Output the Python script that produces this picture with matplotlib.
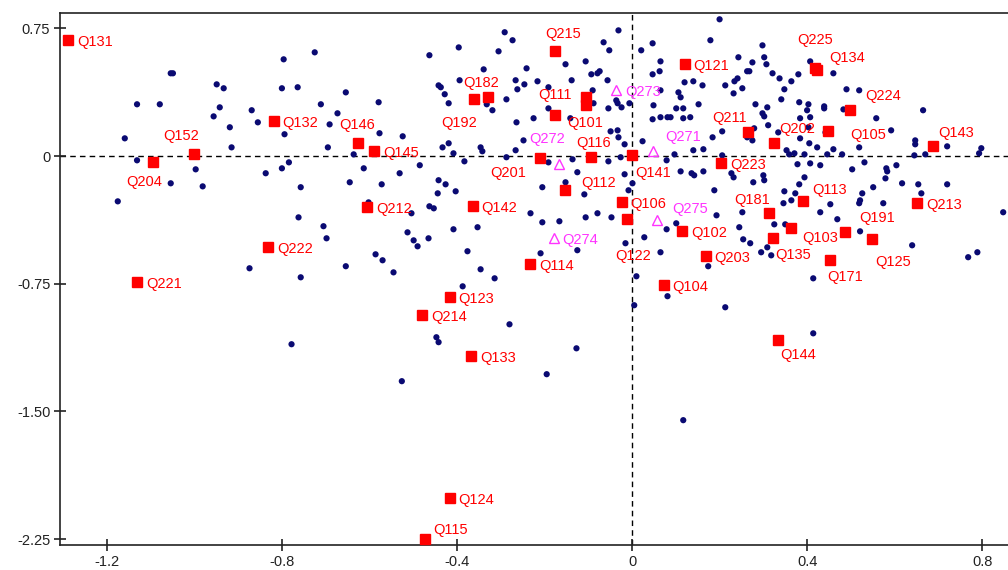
import numpy as np
import matplotlib
matplotlib.use("Agg")
import matplotlib.pyplot as plt

plt.rcParams['font.family'] = ['Liberation Sans', 'DejaVu Sans']

# background items (blue dots)
dot_x = [-0.725, -0.796, -1.054, -1.049, -0.949, -0.933, -0.800, -0.764, -1.131, -1.079,
         -0.942, -0.711, -0.869, -0.956, -0.673, -0.855, -0.691, -0.919, -0.794, -1.159,
         -0.915, -0.695, -1.131, -0.997, -0.784, -0.800, -0.837, -1.054, -0.981, -0.757,
         -1.175, -0.762, -0.705, -0.698, -0.874, -0.757, -0.778,
         -0.291, -0.273, -0.031, -0.463, -0.396, -0.305, -0.065, -0.052, -0.106, -0.152,
         -0.241, -0.339, -0.074, -0.079, -0.093, 0.021, 0.047, 0.065, 0.063, 0.047,
         -0.394, -0.266, -0.246, -0.216, -0.138, -0.056, -0.442, -0.437, -0.428, -0.262,
         -0.191, -0.287, -0.332, -0.319, -0.419, -0.654, -0.579, -0.090, -0.088, -0.036,
         -0.033, -0.054, -0.024, -0.006, 0.049, 0.047, 0.081, -0.225, -0.264, -0.141,
         -0.191, -0.033, -0.049, -0.031, -0.017, 0.024, -0.248, -0.266, -0.346, -0.342,
         -0.419, -0.433, -0.408, -0.383, -0.287, -0.577, -0.524, -0.636, -0.485, -0.613,
         -0.531, -0.645, -0.572, -0.191, -0.136, -0.125, -0.152, -0.205, -0.109, -0.054,
         -0.026, -0.017, 0.001, -0.008, -0.442, -0.426, -0.444, -0.403, -0.463, -0.453,
         -0.602, -0.504, -0.232, -0.166, -0.205, -0.106, -0.079, -0.047, -0.513, -0.465,
         -0.499, -0.490, -0.408, -0.353, -0.586, -0.570, -0.654, -0.545, -0.376, -0.346,
         -0.314, -0.387, -0.209, -0.125, 0.028, -0.015, 0.065, 0.010,
         0.081, 0.005, -0.280, -0.447, -0.442, -0.127, -0.195, -0.526,
         0.213, 0.414, 0.117,
         0.200, 0.179, 0.298, 0.243, 0.275, 0.302, 0.307, 0.263, 0.268, 0.321,
         0.407, 0.460, 0.380, 0.364, 0.337, 0.241, 0.234, 0.120, 0.140, 0.161,
         0.213, 0.252, 0.232, 0.348, 0.106, 0.111, 0.065, 0.341, 0.382, 0.403,
         0.400, 0.439, 0.439, 0.490, 0.519, 0.483, 0.558, 0.665, 0.592, 0.282,
         0.309, 0.298, 0.302, 0.152, 0.101, 0.117, 0.088, 0.117, 0.133, 0.311,
         0.334, 0.384, 0.403, 0.407, 0.279, 0.206, 0.184, 0.263, 0.275, 0.442,
         0.065, 0.384, 0.405, 0.423, 0.460, 0.519, 0.140, 0.163, 0.097, 0.079,
         0.206, 0.353, 0.359, 0.371, 0.394, 0.446, 0.480, 0.378, 0.407, 0.430,
         0.503, 0.531, 0.581, 0.583, 0.604, 0.645, 0.670, 0.647, 0.647, 0.720,
         0.798, 0.793, 0.111, 0.136, 0.142, 0.163, 0.227, 0.232, 0.277, 0.300,
         0.302, 0.394, 0.382, 0.579, 0.617, 0.654, 0.720, 0.188, 0.348, 0.373,
         0.364, 0.346, 0.453, 0.526, 0.521, 0.519, 0.551, 0.574, 0.661, 0.193,
         0.252, 0.430, 0.469, 0.848, 0.079, 0.101, 0.245, 0.325, 0.350, 0.521,
         0.254, 0.270, 0.295, 0.309, 0.318, 0.640, 0.768, 0.789, 0.174, 0.414]
dot_y = [0.609, 0.568, 0.486, 0.486, 0.421, 0.398, 0.398, 0.404, 0.304, 0.304,
         0.286, 0.304, 0.269, 0.233, 0.251, 0.198, 0.186, 0.169, 0.128, 0.104,
         0.051, 0.051, -0.025, -0.078, -0.037, -0.072, -0.101, -0.160, -0.178, -0.183,
         -0.266, -0.360, -0.412, -0.483, -0.659, -0.712, -1.105,
         0.727, 0.680, 0.738, 0.592, 0.638, 0.615, 0.668, 0.621, 0.556, 0.539,
         0.515, 0.509, 0.498, 0.486, 0.480, 0.621, 0.662, 0.556, 0.498, 0.480,
         0.445, 0.445, 0.421, 0.439, 0.445, 0.445, 0.415, 0.404, 0.363, 0.392,
         0.404, 0.333, 0.304, 0.269, 0.310, 0.374, 0.316, 0.386, 0.310, 0.327,
         0.310, 0.280, 0.286, 0.310, 0.298, 0.216, 0.228, 0.222, 0.198, 0.222,
         0.280, 0.151, 0.145, 0.110, 0.069, 0.087, 0.092, 0.034, 0.051, 0.028,
         0.075, 0.051, 0.016, -0.031, -0.007, 0.134, 0.116, 0.010, -0.054, -0.072,
         -0.101, -0.154, -0.166, -0.037, -0.019, -0.095, -0.154, -0.183, -0.225, -0.031,
         -0.007, -0.107, -0.160, -0.201, -0.142, -0.166, -0.219, -0.207, -0.295, -0.307,
         -0.272, -0.336, -0.336, -0.383, -0.389, -0.360, -0.336, -0.360, -0.448, -0.483,
         -0.495, -0.530, -0.430, -0.418, -0.577, -0.612, -0.647, -0.683, -0.559, -0.665,
         -0.718, -0.765, -0.571, -0.553, -0.477, -0.512, -0.565, -0.706,
         -0.823, -0.876, -0.988, -1.064, -1.093, -1.129, -1.281, -1.322,
         -0.888, -1.041, -1.551,
         0.803, 0.680, 0.650, 0.580, 0.550, 0.580, 0.539, 0.498, 0.498, 0.486,
         0.556, 0.486, 0.480, 0.439, 0.456, 0.456, 0.439, 0.433, 0.439, 0.415,
         0.415, 0.398, 0.368, 0.392, 0.374, 0.345, 0.386, 0.333, 0.316, 0.304,
         0.269, 0.292, 0.280, 0.392, 0.386, 0.274, 0.222, 0.269, 0.151, 0.304,
         0.286, 0.251, 0.233, 0.304, 0.280, 0.280, 0.228, 0.222, 0.228, 0.181,
         0.139, 0.222, 0.169, 0.228, 0.163, 0.145, 0.110, 0.110, 0.092, 0.139,
         0.228, 0.104, 0.075, 0.051, 0.040, 0.051, 0.034, 0.040, 0.010, -0.025,
         0.004, 0.034, 0.010, 0.016, 0.010, 0.010, 0.010, -0.048, -0.043, -0.054,
         -0.078, -0.037, -0.072, -0.090, -0.054, 0.004, 0.010, 0.092, 0.069, 0.057,
         0.046, 0.016, -0.090, -0.101, -0.113, -0.090, -0.101, -0.125, -0.154, -0.113,
         -0.142, -0.125, -0.166, -0.131, -0.160, -0.166, -0.166, -0.201, -0.207, -0.219,
         -0.260, -0.277, -0.283, -0.219, -0.260, -0.277, -0.183, -0.277, -0.219, -0.348,
         -0.330, -0.330, -0.371, -0.330, -0.430, -0.395, -0.418, -0.401, -0.401, -0.442,
         -0.489, -0.512, -0.565, -0.536, -0.583, -0.524, -0.594, -0.565, -0.647, -0.718]

# labelled items (red squares)
sq_names = ["Q131", "Q132", "Q152", "Q204", "Q222", "Q221", "Q146", "Q145", "Q212", "Q142",
            "Q192", "Q182", "Q215", "Q111", "Q101", "", "Q201", "Q116", "Q112", "Q141",
            "Q106", "Q122", "Q114", "Q104", "Q121", "Q225", "Q134", "Q224", "Q211", "Q105",
            "Q202", "Q143", "Q223", "Q113", "Q181", "Q213", "Q102", "Q135", "Q103", "Q191",
            "Q125", "Q171", "Q203", "Q123", "Q214", "Q133", "Q124", "Q115", "Q144"]
sq_x = [-1.289, -0.819, -1.001, -1.095, -0.832, -1.131, -0.625, -0.590, -0.606, -0.364,
        -0.360, -0.330, -0.175, -0.175, -0.106, -0.106, -0.211, -0.093, -0.154, 0.001,
        -0.024, -0.011, -0.232, 0.072, 0.120, 0.419, 0.423, 0.499, 0.266, 0.448,
        0.325, 0.688, 0.204, 0.391, 0.314, 0.652, 0.115, 0.323, 0.364, 0.487,
        0.549, 0.453, 0.168, -0.417, -0.479, -0.367, -0.417, -0.474, 0.334]
sq_y = [0.680, 0.204, 0.010, -0.037, -0.536, -0.741, 0.075, 0.028, -0.301, -0.295,
        0.333, 0.345, 0.615, 0.239, 0.298, 0.345, -0.013, -0.007, -0.201, 0.004,
        -0.272, -0.371, -0.636, -0.759, 0.539, 0.515, 0.503, 0.269, 0.139, 0.145,
        0.075, 0.057, -0.043, -0.266, -0.336, -0.277, -0.442, -0.483, -0.424, -0.448,
        -0.489, -0.612, -0.589, -0.829, -0.935, -1.176, -2.009, -2.250, -1.082]

# supplementary items (magenta triangles)
tri_names = ["Q271", "Q272", "Q273", "Q274", "Q275"]
tri_x = [0.049, -0.168, -0.036, -0.179, 0.058]
tri_y = [0.028, -0.048, 0.386, -0.483, -0.377]

# label placement: centred offsets in pixels, everything else sits right of the marker
label_offsets = {
    "Q152": (-13, 18), "Q204": (-9, -20), "Q146": (-1, 18), "Q192": (-15, -24),
    "Q182": (-6, 14), "Q215": (8, 17), "Q111": (0, 20), "Q101": (0, -18),
    "Q201": (-32, -15), "Q116": (2, 14), "Q112": (34, 7), "Q141": (21, -18),
    "Q122": (6, -37), "Q225": (0, 28), "Q134": (30, 12), "Q224": (33, 14),
    "Q211": (-19, 14), "Q105": (40, -4), "Q202": (23, 14), "Q143": (23, 13),
    "Q113": (26, 11), "Q181": (-17, 13), "Q135": (20, -17), "Q103": (29, -10),
    "Q191": (32, 14), "Q125": (21, -23), "Q171": (15, -17), "Q115": (26, 9),
    "Q144": (20, -15), "Q271": (30, 14), "Q272": (-11, 25), "Q275": (33, 11),
}

fig = plt.figure(figsize=(10.08, 5.70), dpi=100)
ax = fig.add_axes([60 / 1008, 25 / 570, 948 / 1008, 532 / 570])

ax.axhline(0, color="black", lw=1, ls=(0, (4, 3)), zorder=1)
ax.axvline(0, color="black", lw=1, ls=(0, (4, 3)), zorder=1)

ax.scatter(dot_x, dot_y, s=20, color="#0a0a72", edgecolors="none", zorder=2)
ax.plot(sq_x, sq_y, "s", ms=6.5, color="#ff0000", mec="#ff0000", ls="none", zorder=3)
ax.plot(tri_x, tri_y, "^", ms=6.5, mfc="none", mec="#ff33ff", mew=1, ls="none", zorder=3)


def put_label(name, x, y, color):
    if not name:
        return
    if name in label_offsets:
        ax.annotate(name, (x, y), xytext=label_offsets[name], textcoords="offset pixels",
                    ha="center", va="center", color=color, fontsize=10.5, zorder=4)
    else:
        ax.annotate(name, (x, y), xytext=(9, -2), textcoords="offset pixels",
                    ha="left", va="center", color=color, fontsize=10.5, zorder=4)


for name, x, y in zip(sq_names, sq_x, sq_y):
    put_label(name, x, y, "#ff0000")
for name, x, y in zip(tri_names, tri_x, tri_y):
    put_label(name, x, y, "#ff33ff")

ax.set_xlim(-1.307, 0.859)
ax.set_ylim(-2.284, 0.840)
ax.set_xticks([-1.2, -0.8, -0.4, 0, 0.4, 0.8])
ax.set_xticklabels(["-1.2", "-0.8", "-0.4", "0", "0.4", "0.8"])
ax.set_yticks([0.75, 0, -0.75, -1.5, -2.25])
ax.set_yticklabels(["0.75", "0", "-0.75", "-1.50", "-2.25"])
ax.tick_params(direction="inout", length=8, width=1.2, color="#222222",
               labelsize=10.5, labelcolor="#222222", pad=3)

for side in ["left", "bottom", "top"]:
    ax.spines[side].set_color("#222222")
    ax.spines[side].set_linewidth(1.2)
ax.spines["right"].set_visible(False)

fig.savefig("out.png", dpi=100)
